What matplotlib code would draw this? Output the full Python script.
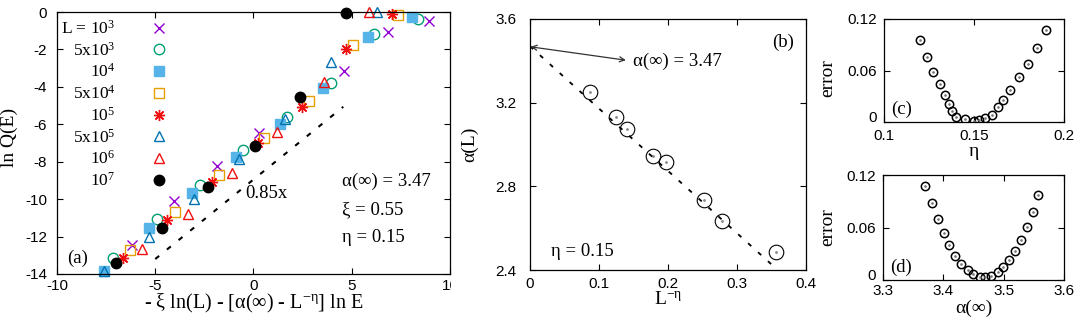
import matplotlib
matplotlib.use('Agg')
import matplotlib.pyplot as plt
from matplotlib.transforms import Bbox, TransformedBbox, IdentityTransform

plt.rcParams['font.family'] = ['Liberation Sans', 'DejaVu Sans']
plt.rcParams['axes.unicode_minus'] = False
plt.rcParams['mathtext.default'] = 'regular'
SERIF = ['Liberation Serif', 'DejaVu Serif']

# ---------------- Panel (a) data ----------------
labels_a = ['L = $10^3$', '$5x10^3$', '$10^4$', '$5x10^4$', '$10^5$', '$5x10^5$', '$10^6$', '$10^7$']

x_L1e3 = [-6.17, -4.03, -1.84, 0.28, 4.62, 6.83, 8.95]
y_L1e3 = [-12.45, -10.10, -8.21, -6.45, -3.14, -1.08, -0.46]

x_L5e3 = [-7.17, -4.91, -2.72, -0.52, 1.68, 3.93, 6.15, 8.39]
y_L5e3 = [-13.13, -11.06, -9.25, -7.38, -5.60, -3.78, -1.19, -0.37]

x_L1e4 = [-7.61, -5.33, -3.11, -0.89, 1.34, 3.55, 5.82, 8.05]
y_L1e4 = [-13.83, -11.53, -9.69, -7.77, -5.99, -4.08, -1.36, -0.28]

x_L5e4 = [-6.28, -4.01, -1.74, 0.55, 2.82, 5.08, 7.37]
y_L5e4 = [-12.72, -10.71, -8.71, -6.75, -4.74, -1.75, -0.16]

x_L1e5 = [-6.66, -4.40, -2.13, 0.21, 2.45, 4.71, 7.03]
y_L1e5 = [-13.16, -11.12, -9.07, -7.02, -5.06, -1.99, -0.12]

x_L5e5 = [-7.59, -5.30, -3.03, -0.72, 1.60, 3.93, 6.27]
y_L5e5 = [-13.83, -12.01, -9.99, -7.86, -5.73, -2.66, -0.02]

x_L1e6 = [-5.67, -3.32, -1.11, 1.21, 3.59, 5.89]
y_L1e6 = [-12.68, -10.80, -8.62, -6.40, -3.76, -0.02]

x_L1e7 = [-7.01, -4.67, -2.30, 0.08, 2.37, 4.71]
y_L1e7 = [-13.43, -11.53, -9.34, -7.16, -4.53, -0.04]

fit_slope_a = 0.85
fit_icpt_a = -8.95
fit_x_a = [-5.0, 4.57]

# ---------------- Panel (b) data ----------------
Lm_eta = [0.0877, 0.125, 0.140, 0.178, 0.197, 0.252, 0.279, 0.357]
alpha_L = [3.251, 3.131, 3.072, 2.947, 2.917, 2.736, 2.635, 2.485]
alpha_inf = 3.47
fit_slope_b = -2.98
fit_x_b = [0.0, 0.357]

# ---------------- Panel (c) data ----------------
eta_c = [0.1198, 0.1241, 0.1272, 0.1309, 0.1341, 0.1361, 0.1380, 0.1398, 0.1448, 0.1498,
         0.1528, 0.1563, 0.1600, 0.1633, 0.1661, 0.1698, 0.1750, 0.1800, 0.1850, 0.1902]
err_c = [0.0956, 0.0763, 0.0588, 0.0441, 0.0310, 0.0209, 0.0132, 0.0058, 0.0039, 0.0015,
         0.0019, 0.0046, 0.0085, 0.0170, 0.0259, 0.0375, 0.0519, 0.0677, 0.0859, 0.1072]

# ---------------- Panel (d) data ----------------
alpha_d = [3.370, 3.381, 3.391, 3.401, 3.410, 3.419, 3.430, 3.440, 3.449, 3.460,
           3.469, 3.479, 3.490, 3.499, 3.509, 3.519, 3.528, 3.538, 3.548, 3.557]
err_d = [0.1078, 0.0876, 0.0697, 0.0541, 0.0400, 0.0278, 0.0183, 0.0114, 0.0065, 0.0038,
         0.0030, 0.0046, 0.0088, 0.0145, 0.0229, 0.0335, 0.0457, 0.0602, 0.0773, 0.0971]

FS = 11      # tick labels (sans)
TFS = 13.5   # serif annotations
LFS = 14     # serif axis labels
GFS = 12.5   # legend

fig = plt.figure(figsize=(10.84, 3.27), dpi=100)
ax_a = fig.add_axes([0.0526, 0.1621, 0.3625, 0.8012])
ax_b = fig.add_axes([0.4889, 0.1743, 0.2546, 0.7676])
ax_c = fig.add_axes([0.8155, 0.6269, 0.1661, 0.3150])
ax_d = fig.add_axes([0.8146, 0.1437, 0.1670, 0.3211])

for ax in (ax_a, ax_b, ax_c, ax_d):
    ax.tick_params(direction='in', top=True, right=True, length=4, width=0.8,
                   labelsize=FS)
    for s in ax.spines.values():
        s.set_linewidth(0.9)

# ---------- (a) ----------
red = '#f01010'
series = [
    (x_L1e3, y_L1e3, dict(marker='x', color='#9400D3', ms=7, mew=1.0, ls='none')),
    (x_L5e3, y_L5e3, dict(marker='o', mfc='none', mec='#009E73', ms=7.5, mew=1.0, ls='none')),
    (x_L1e4, y_L1e4, dict(marker='s', color='#56B4E9', ms=6.5, ls='none')),
    (x_L5e4, y_L5e4, dict(marker='s', mfc='none', mec='#E69F00', ms=7, mew=1.0, ls='none')),
    (x_L1e5, y_L1e5, dict(marker=(8, 2, 0), color=red, ms=8, mew=1.0, ls='none')),
    (x_L5e5, y_L5e5, dict(marker='^', mfc='none', mec='#0072B2', ms=7.5, mew=1.0, ls='none')),
    (x_L1e6, y_L1e6, dict(marker='^', mfc='none', mec=red, ms=7.5, mew=1.0, ls='none')),
    (x_L1e7, y_L1e7, dict(marker='o', color='black', ms=7.5, ls='none')),
]
for (xs, ys, kw), lab in zip(series, labels_a):
    ax_a.plot(xs, ys, label=lab, clip_on=False, **kw)

fx = fit_x_a
ax_a.plot(fx, [fit_slope_a * v + fit_icpt_a for v in fx], color='black', lw=1.5,
          ls=(0, (2.4, 4.8)))

ax_a.set_xlim(-10, 10)
ax_a.set_ylim(-14, 0)
ax_a.set_xticks([-10, -5, 0, 5, 10])
ax_a.set_yticks([0, -2, -4, -6, -8, -10, -12, -14])
ax_a.tick_params(axis='y', pad=7)

leg = ax_a.legend(loc='upper right', bbox_to_anchor=(0.3046, 0.97), frameon=False,
                  markerfirst=False, handlelength=2, handletextpad=1.53,
                  borderpad=0, borderaxespad=0, labelspacing=0.22,
                  prop={'family': SERIF, 'size': GFS})

ax_a.text(-0.43, -9.7, '0.85x', family=SERIF, fontsize=TFS, va='center', ha='left')
ax_a.text(4.49, -9.07, 'α(∞) = 3.47', family=SERIF, fontsize=TFS, va='center', ha='left')
ax_a.text(4.49, -10.55, 'ξ = 0.55', family=SERIF, fontsize=TFS, va='center', ha='left')
ax_a.text(4.49, -12.04, 'η = 0.15', family=SERIF, fontsize=TFS, va='center', ha='left')
ax_a.text(-9.5, -13.16, '(a)', family=SERIF, fontsize=TFS, va='center', ha='left')

ax_a.set_xlabel('- ξ ln(L) - [α(∞) - $L^{-η}$] ln E', family=SERIF, fontsize=LFS + 0.5)
ax_a.set_ylabel('ln Q(E)', family=SERIF, fontsize=LFS)
ax_a.xaxis.set_label_coords(0.5, -0.07)
ax_a.yaxis.set_label_coords(-0.099, 0.52)

# clip the last x tick label like the reference
last = ax_a.xaxis.get_major_ticks()[-1]
last.label1.set_clip_on(True)
last.label1.set_clip_box(TransformedBbox(Bbox([[0, 0], [451, 327]]), IdentityTransform()))

# ---------- (b) ----------
ax_b.plot(Lm_eta, alpha_L, ls='none', marker='o', mfc='none', mec='black', ms=10.5, mew=0.8)
ax_b.plot(Lm_eta, alpha_L, ls='none', marker='o', color='#888888', ms=1.0)
ax_b.plot(fit_x_b, [alpha_inf + fit_slope_b * v for v in fit_x_b], color='black', lw=1.3,
          ls=(0, (2.4, 5.0)))
ax_b.annotate('', xy=(0.139, 3.403), xytext=(0.001, 3.467),
              arrowprops=dict(arrowstyle='<->', color='#333333', lw=0.9,
                              shrinkA=0, shrinkB=0, mutation_scale=9))
ax_b.text(0.1495, 3.397, 'α(∞) = 3.47', family=SERIF, fontsize=TFS, va='center', ha='left')
ax_b.text(0.367, 3.488, '(b)', family=SERIF, fontsize=TFS, va='center', ha='center')
ax_b.text(0.03, 2.488, 'η = 0.15', family=SERIF, fontsize=TFS, va='center', ha='left')
ax_b.set_xlim(0, 0.4)
ax_b.set_ylim(2.4, 3.6)
ax_b.set_xticks([0, 0.1, 0.2, 0.3, 0.4])
ax_b.set_xticklabels(['0', '0.1', '0.2', '0.3', '0.4'])
ax_b.set_yticks([2.4, 2.8, 3.2, 3.6])
ax_b.set_yticklabels(['2.4', '2.8', '3.2', '3.6'])
ax_b.tick_params(axis='y', pad=10)
ax_b.tick_params(axis='x', pad=5)
ax_b.set_xlabel('$L^{-η}$', family=SERIF, fontsize=LFS)
ax_b.set_ylabel('α(L)', family=SERIF, fontsize=LFS)
ax_b.xaxis.set_label_coords(0.5, -0.085)
ax_b.yaxis.set_label_coords(-0.188, 0.5)

# ---------- (c) ----------
ax_c.plot(eta_c, err_c, ls='none', marker='o', mfc='none', mec='black', ms=6, mew=1.1)
ax_c.plot(eta_c, err_c, ls='none', marker='o', color='#777777', ms=0.9)
ax_c.set_xlim(0.1, 0.2)
ax_c.set_ylim(0, 0.12)
ax_c.set_xticks([0.1, 0.15, 0.2])
ax_c.set_xticklabels(['0.1', '0.15', '0.2'])
ax_c.set_yticks([0, 0.06, 0.12])
ax_c.set_yticklabels(['0', '0.06', '0.12'])
ax_c.tick_params(axis='y', pad=5)
ax_c.tick_params(axis='x', pad=5)
ax_c.text(0.110, 0.0143, '(c)', family=SERIF, fontsize=TFS, va='center', ha='center')
ax_c.set_xlabel('η', family=SERIF, fontsize=LFS)
ax_c.set_ylabel('error', family=SERIF, fontsize=LFS)
ax_c.xaxis.set_label_coords(0.5, -0.2)
ax_c.yaxis.set_label_coords(-0.265, 0.43)

# ---------- (d) ----------
ax_d.plot(alpha_d, err_d, ls='none', marker='o', mfc='none', mec='black', ms=6, mew=1.1)
ax_d.plot(alpha_d, err_d, ls='none', marker='o', color='#777777', ms=0.9)
ax_d.set_xlim(3.3, 3.6)
ax_d.set_ylim(0, 0.12)
ax_d.set_xticks([3.3, 3.4, 3.5, 3.6])
ax_d.set_xticklabels(['3.3', '3.4', '3.5', '3.6'])
ax_d.set_yticks([0, 0.06, 0.12])
ax_d.set_yticklabels(['0', '0.06', '0.12'])
ax_d.tick_params(axis='y', pad=5)
ax_d.tick_params(axis='x', pad=3)
ax_d.text(3.330, 0.0145, '(d)', family=SERIF, fontsize=TFS, va='center', ha='center')
ax_d.set_xlabel('α(∞)', family=SERIF, fontsize=LFS)
ax_d.set_ylabel('error', family=SERIF, fontsize=LFS)
ax_d.xaxis.set_label_coords(0.5, -0.19)
ax_d.yaxis.set_label_coords(-0.258, 0.5)

# the "0" labels of the small panels sit on their baseline, as in the reference
for ax in (ax_c, ax_d):
    ax.yaxis.get_major_ticks()[0].label1.set_verticalalignment('baseline')

fig.savefig('out.png', dpi=100)
